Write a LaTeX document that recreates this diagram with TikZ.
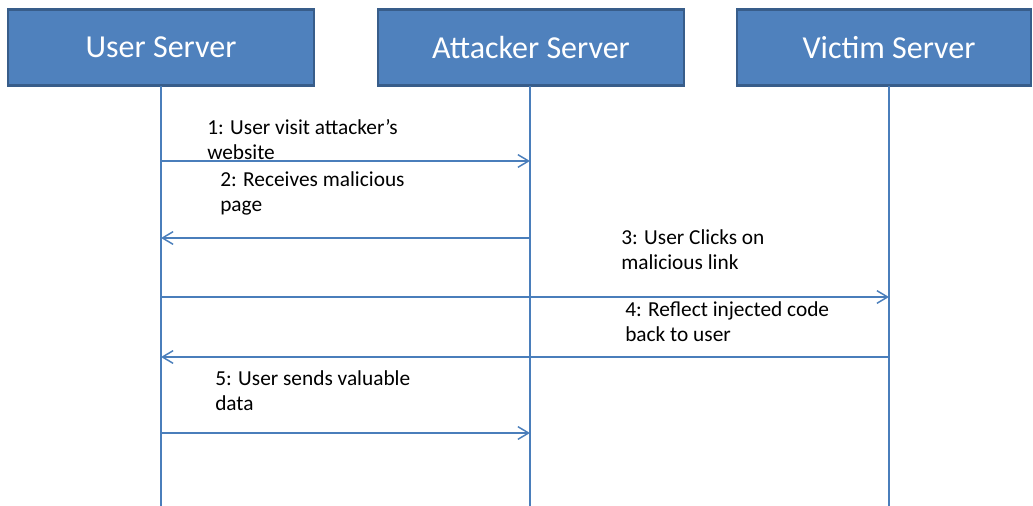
\documentclass[tikz,border=0pt]{standalone}
\usepackage{fontspec}
\setmainfont{Carlito}
\usetikzlibrary{arrows.meta}
\definecolor{boxfill}{HTML}{4F81BD}
\definecolor{boxline}{HTML}{385D8A}
\definecolor{seqline}{HTML}{4A7EBB}
\tikzset{
  srvbox/.style={draw=boxline, fill=boxfill, line width=1.9pt, minimum width=229.5pt, minimum height=57pt, inner sep=0pt, text=white, font=\fontsize{24}{28}\selectfont},
  lifeline/.style={draw=seqline, line width=1.1pt},
  msg/.style={draw=seqline, line width=1.1pt, -{Straight Barb[length=8pt, width=9.5pt, line width=1.1pt]}},
  msglabel/.style={anchor=base west, inner sep=0pt, align=left, font=\fontsize{16}{18.75}\selectfont}
}
\begin{document}
\begin{tikzpicture}[x=0.75pt, y=-0.75pt]
\useasboundingbox (0,0) rectangle (1033,506);
% server boxes
\node (U) [srvbox] at (161,47.5) {User Server};
\node (A) [srvbox] at (531,47.5) {Attacker Server};
\node (V) [srvbox, minimum width=220.5pt] at (884,47.5) {\hspace*{7.5pt}Victim Server};
% lifeline points
\coordinate (Uend) at (161,506);
\coordinate (Aend) at (530,506);
\coordinate (Vend) at (889,506);
\coordinate (Utop) at (161,86);
\coordinate (Atop) at (530,86);
\coordinate (Vtop) at (889,86);
\draw[lifeline] (Utop) -- (Uend);
\draw[lifeline] (Atop) -- (Aend);
\draw[lifeline] (Vtop) -- (Vend);
% message points
\coordinate (U1) at (161,161); \coordinate (A1) at (530,161);
\coordinate (A2) at (530,238); \coordinate (U2) at (161,238);
\coordinate (U3) at (161,297); \coordinate (V3) at (889,297);
\coordinate (V4) at (889,357); \coordinate (U4) at (161,357);
\coordinate (U5) at (161,433); \coordinate (A5) at (530,433);
\draw[msg] (U1) -- (A1);
\draw[msg] (A2) -- (U2);
\draw[msg] (U3) -- (V3);
\draw[msg] (V4) -- (U4);
\draw[msg] (U5) -- (A5);
% labels (anchored at the baseline of their last line)
\node (L1) [msglabel] at (207,160) {1: User visit attacker’s\\website};
\node (L2) [msglabel] at (220,212) {2: Receives malicious\\page};
\node (L3) [msglabel] at (621,270) {3: User Clicks on\\malicious link};
\node (L4) [msglabel] at (625,341.5) {4: Reflect injected code\\back to user};
\node (L5) [msglabel] at (215,410) {5: User sends valuable\\data};
\end{tikzpicture}
\end{document}
